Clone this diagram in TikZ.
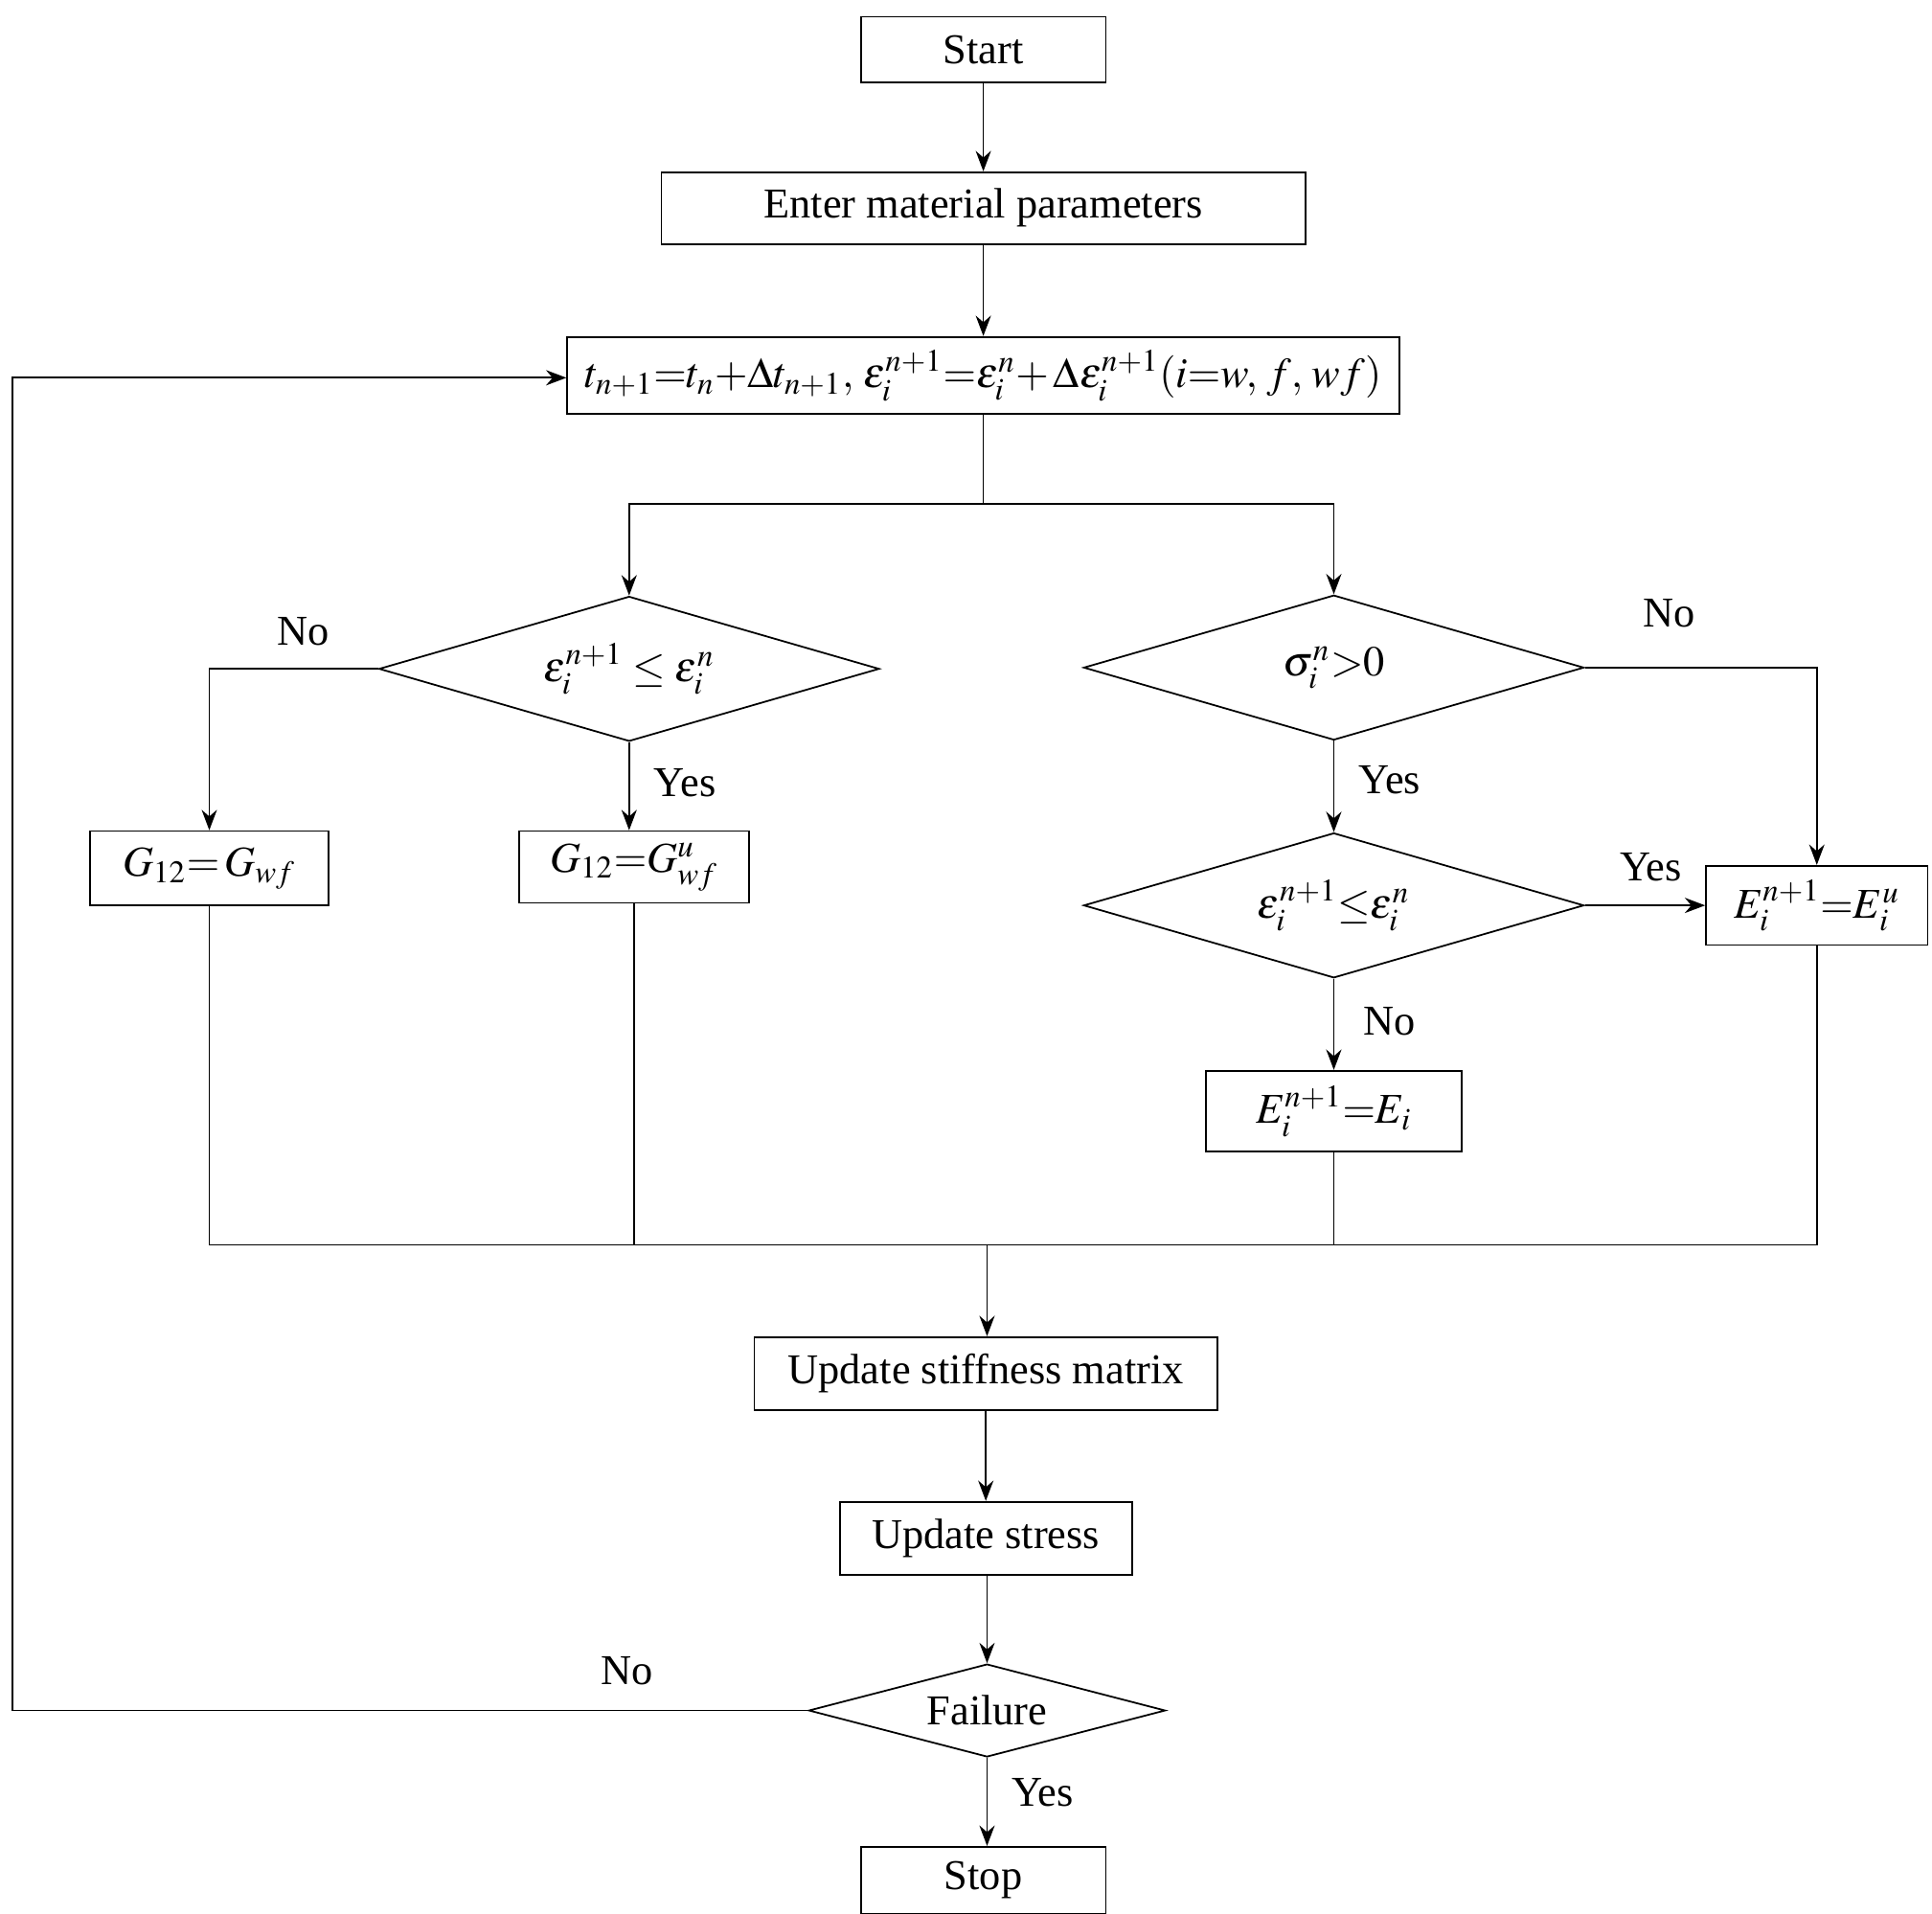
\documentclass[tikz,border=0pt]{standalone}
\usepackage{mathptmx}
\usepackage{fontspec}
\setmainfont{Liberation Serif}
\usetikzlibrary{shapes.geometric,arrows.meta}
\begin{document}
\begin{tikzpicture}[x=0.0128cm,y=-0.0128cm,
  every node/.style={font=\fontsize{12.5}{15}\selectfont},
  box/.style={draw,line width=0.5pt,inner sep=1pt},
  dia/.style={draw,diamond,line width=0.5pt,inner sep=0pt,shape aspect=3.45},
  lbl/.style={inner sep=1pt},
  line/.style={line width=0.5pt},
  arr/.style={line width=0.5pt,-{Stealth[length=6pt,width=4.5pt]}}]
\useasboundingbox (0,0) rectangle (1560,1545);
\node[box,minimum width=2.534cm,minimum height=0.678cm] (start) at (794,40) {Start};
\node[box,minimum width=6.656cm,minimum height=0.742cm] (enter) at (794,168) {Enter material parameters};
\node[box,minimum width=8.602cm,minimum height=0.794cm] (upd) at (794,303) {$t_{n+1}{=}t_n{+}\Delta t_{n+1},\,\varepsilon_i^{n+1}{=}\varepsilon_i^{n}{+}\,\Delta\varepsilon_i^{n+1}(i{=}w,\,f,\,wf)$};
\node[dia,minimum width=5.171cm,minimum height=1.498cm] (d1) at (508,540) {$\varepsilon_i^{n+1}\le\varepsilon_i^{n}$};
\node[dia,minimum width=5.171cm,minimum height=1.498cm] (d2) at (1077,539) {$\sigma_i^{n}{>}0$};
\node[dia,minimum width=5.171cm,minimum height=1.498cm] (d3) at (1077,731) {$\varepsilon_i^{n+1}{\le}\varepsilon_i^{n}$};
\node[box,minimum width=2.458cm,minimum height=0.768cm] (g1) at (169,701) {$G_{12}{=}\,G_{wf}$};
\node[box,minimum width=2.381cm,minimum height=0.742cm] (g2) at (512,700) {$G_{12}{=}G_{wf}^{u}$};
\node[box,minimum width=2.291cm,minimum height=0.819cm] (eu) at (1467,731) {$E_i^{n+1}{=}E_i^{u}$};
\node[box,minimum width=2.650cm,minimum height=0.832cm] (ei) at (1077,897) {$E_i^{n+1}{=}E_i$};
\node[box,minimum width=4.787cm,minimum height=0.755cm] (stiff) at (796,1109) {Update stiffness matrix};
\node[box,minimum width=3.021cm,minimum height=0.755cm] (stress) at (796,1242) {Update stress};
\node[dia,shape aspect=3.84,minimum width=3.686cm,minimum height=0.96cm] (fail) at (797,1381) {Failure};
\node[box,minimum width=2.534cm,minimum height=0.691cm] (stop) at (794,1518) {Stop};
\coordinate (split) at (794,407);
\coordinate (merge) at (797,1005);
\coordinate (loop) at (10,305);
\draw[arr] (start) -- (enter);
\draw[arr] (enter) -- (upd);
\draw[line] (upd.south) -- (split);
\draw[arr] (split) -| (d1.north);
\draw[arr] (split) -| (d2.north);
\draw[arr] (d1.west) -| (g1.north);
\draw[arr] (d1.south) -- (d1.south |- g2.north);
\draw[arr] (d2.south) -- (d3.north);
\draw[arr] (d2.east) -| (eu.north);
\draw[arr] (d3.east) -- (eu.west);
\draw[arr] (d3.south) -- (ei.north);
\draw[line] (g1.south) -- (g1.south |- merge) -- (eu.south |- merge) -- (eu.south);
\draw[line] (g2.south) -- (g2.south |- merge);
\draw[line] (ei.south) -- (ei.south |- merge);
\draw[arr] (merge) -- (stiff.north -| merge);
\draw[arr] (stiff) -- (stress);
\draw[arr] (stress.south -| fail.north) -- (fail.north);
\draw[arr] (fail.south) -- (fail.south |- stop.north);
\draw[arr] (fail.west) -| (loop) -- (loop -| upd.west);
\node[lbl] at (245,510) {No};
\node[lbl] at (553,632) {Yes};
\node[lbl] at (1348,495) {No};
\node[lbl] at (1122,630) {Yes};
\node[lbl] at (1333,700) {Yes};
\node[lbl] at (1122,825) {No};
\node[lbl] at (506,1349) {No};
\node[lbl] at (842,1447) {Yes};
\end{tikzpicture}
\end{document}
